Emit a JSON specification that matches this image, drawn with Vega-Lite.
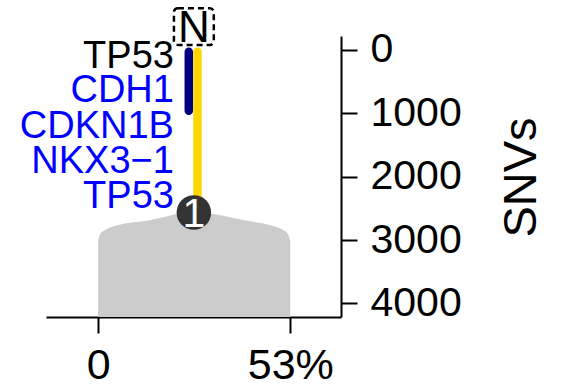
{
  "$schema": "https://vega.github.io/schema/vega-lite/v6.json",
  "width": 295,
  "height": 281,
  "autosize": {"type": "none"},
  "padding": {"left": 46, "top": 36, "right": 221, "bottom": 72},
  "background": "white",
  "config": {
    "view": {"stroke": null},
    "font": "Liberation Sans",
    "axis": {
      "grid": false,
      "domainColor": "black",
      "domainWidth": 2,
      "tickColor": "black",
      "tickWidth": 2,
      "tickSize": 16,
      "labelColor": "black",
      "labelFont": "Liberation Sans",
      "titleFont": "Liberation Sans",
      "titleColor": "black",
      "titleFontWeight": "normal",
      "labelFlush": false,
      "labelOverlap": false
    }
  },
  "datasets": {
    "area": [
      {"x": 0, "y": 3000},
      {"x": 0.6, "y": 2900},
      {"x": 1.9, "y": 2840},
      {"x": 5.4, "y": 2765},
      {"x": 12.9, "y": 2700},
      {"x": 26.4, "y": 2560},
      {"x": 41.9, "y": 2705},
      {"x": 47.4, "y": 2765},
      {"x": 51.0, "y": 2840},
      {"x": 52.3, "y": 2900},
      {"x": 53, "y": 3010}
    ],
    "branches": [
      {"x": 25.0, "y": 30, "y2": 960, "branch": "N"},
      {"x": 27.4, "y": 30, "y2": 2500, "branch": "1"}
    ],
    "nodes": [{"x": 26.4, "y": 2566, "label": "1"}],
    "normal": [{"x": 20.9, "x2": 31.9, "y": -658, "y2": -79, "label": "N"}],
    "normalLabel": [{"x": 26.4, "y": -131, "label": "N"}],
    "genes": [
      {"x": 20.9, "y": 284, "gene": "TP53", "kind": "germline"},
      {"x": 20.9, "y": 821, "gene": "CDH1", "kind": "somatic"},
      {"x": 20.9, "y": 1394, "gene": "CDKN1B", "kind": "somatic"},
      {"x": 20.9, "y": 1942, "gene": "NKX3−1", "kind": "somatic"},
      {"x": 20.9, "y": 2495, "gene": "TP53", "kind": "somatic"}
    ]
  },
  "encoding": {
    "x": {
      "field": "x",
      "type": "quantitative",
      "scale": {"domain": [-14.4, 67], "nice": false, "zero": false},
      "axis": {
        "orient": "bottom",
        "values": [0, 53],
        "labelExpr": "datum.value == 0 ? '0' : datum.value + '%'",
        "labelFontSize": 43,
        "labelPadding": 11,
        "title": null
      }
    },
    "y": {
      "field": "y",
      "type": "quantitative",
      "scale": {"domain": [-220, 4215], "nice": false, "zero": false, "reverse": true},
      "axis": {
        "orient": "right",
        "values": [0, 1000, 2000, 3000, 4000],
        "format": "d",
        "labelFontSize": 41,
        "labelPadding": 13,
        "title": "SNVs",
        "titleFontSize": 47,
        "titleAngle": 270,
        "titleX": 194,
        "titleY": 141,
        "titleAlign": "center",
        "titleBaseline": "alphabetic"
      }
    }
  },
  "resolve": {"scale": {"color": "independent"}},
  "layer": [
    {
      "data": {"name": "area"},
      "mark": {"type": "area", "color": "#CCCCCC", "interpolate": "monotone"},
      "encoding": {"y2": {"datum": 4215}}
    },
    {
      "data": {"name": "branches"},
      "mark": {"type": "rule", "strokeWidth": 8.5, "strokeCap": "round"},
      "encoding": {
        "y2": {"field": "y2"},
        "color": {"field": "branch", "type": "nominal", "scale": {"domain": ["N", "1"], "range": ["#000080", "#FFD700"]}, "legend": null}
      }
    },
    {
      "data": {"name": "nodes"},
      "mark": {"type": "point", "shape": "circle", "filled": true, "color": "#333333", "opacity": 1, "size": 1195}
    },
    {
      "data": {"name": "nodes"},
      "mark": {"type": "text", "color": "white", "fontSize": 41, "baseline": "alphabetic", "align": "center", "dy": 14},
      "encoding": {"text": {"field": "label"}}
    },
    {
      "data": {"name": "normal"},
      "mark": {"type": "rect", "fill": "white", "stroke": "black", "strokeWidth": 2.5, "strokeDash": [6, 4], "cornerRadius": 4},
      "encoding": {"x2": {"field": "x2"}, "y2": {"field": "y2"}}
    },
    {
      "data": {"name": "normalLabel"},
      "mark": {"type": "text", "color": "black", "fontSize": 44, "baseline": "alphabetic", "align": "center"},
      "encoding": {"text": {"field": "label"}}
    },
    {
      "data": {"name": "genes"},
      "mark": {"type": "text", "fontSize": 38, "baseline": "alphabetic", "align": "right"},
      "encoding": {
        "text": {"field": "gene"},
        "color": {"field": "kind", "type": "nominal", "scale": {"domain": ["germline", "somatic"], "range": ["black", "#0000FF"]}, "legend": null}
      }
    }
  ]
}
